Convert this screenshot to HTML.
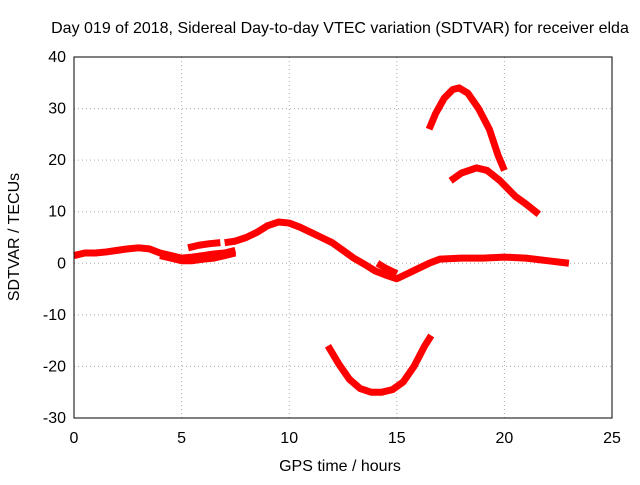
<!DOCTYPE html>
<html><head><meta charset="utf-8"><style>
body{margin:0;background:#fff;font-family:"Liberation Sans",sans-serif;}
svg text{font-family:"Liberation Sans",sans-serif;font-size:16px;fill:#000;}
</style></head><body>
<svg id="chart" width="640" height="480">
<text x="340" y="33" text-anchor="middle">Day 019 of 2018, Sidereal Day-to-day VTEC variation (SDTVAR) for receiver elda</text>
<g id="grid"></g><g id="ticks"></g><g id="series"></g>
<rect x="74" y="57" width="538" height="361" fill="none" stroke="#000"/>
<text x="340" y="471" text-anchor="middle">GPS time / hours</text>
<text transform="translate(19,237) rotate(-90)" text-anchor="middle">SDTVAR / TECUs</text>
</svg>
<script>
const xTicks=[0,5,10,15,20,25];
const yTicks=[-30,-20,-10,0,10,20,30,40];
const trackA_h=[0,0.5,1,1.5,2,2.5,3,3.5,4,4.5,5,5.5,6,6.5,7,7.5];
const trackA_v=[1.5,2,2,2.2,2.5,2.8,3,2.8,2,1.5,1,1.2,1.5,1.8,2,2.5];
const trackB_h=[4,4.5,5,5.5,6,6.5,7,7.5];
const trackB_v=[1.5,1,0.5,0.5,0.8,1,1.5,2];
const trackC_h=[5.3,5.8,6.3,6.8];
const trackC_v=[3,3.5,3.8,4];
const trackD_h=[7,7.5,8,8.5,9,9.5,10,10.5,11,11.5,12,12.5,13,13.5,14,14.5,15,15.5,16,16.5,17,18,19,20,21,22,23];
const trackD_v=[4,4.3,5,6,7.3,8,7.8,7,6,5,4,2.5,1,-0.2,-1.5,-2.3,-3,-2,-1,0,0.8,1,1,1.2,1,0.5,0];
const trackE_h=[14.1,14.5,15];
const trackE_v=[0,-1,-2];
const trackF_h=[16.5,16.8,17.2,17.6,17.9,18.3,18.8,19.3,19.7,20];
const trackF_v=[26,29,32,33.7,34,33,30,26,21,18];
const trackG_h=[17.5,18,18.7,19.2,19.8,20.5,21,21.6];
const trackG_v=[16,17.5,18.5,18,16,13,11.5,9.5];
const trackH_h=[11.8,12.3,12.8,13.3,13.8,14.3,14.8,15.3,15.8,16.3,16.6];
const trackH_v=[-16,-19.5,-22.5,-24.3,-25,-25,-24.5,-23,-20,-16,-14];
const xs=h=>74+h*538/25, ys=v=>418-(v+30)*361/70;
const NS="http://www.w3.org/2000/svg";
const grid=document.getElementById('grid'),ticks=document.getElementById('ticks'),ser=document.getElementById('series');
xTicks.forEach(t=>{const x=xs(t);
 const l=document.createElementNS(NS,'line');l.setAttribute('x1',x);l.setAttribute('x2',x);l.setAttribute('y1',57);l.setAttribute('y2',418);l.setAttribute('stroke','#aaa');l.setAttribute('stroke-dasharray','1,3');
 
 grid.appendChild(l);
 const tx=document.createElementNS(NS,'text');tx.setAttribute('x',x);tx.setAttribute('y',443);tx.setAttribute('text-anchor','middle');tx.setAttribute('font-size','15');tx.textContent=t;
 
 ticks.appendChild(tx);});
yTicks.forEach(t=>{const y=ys(t);
 const l=document.createElementNS(NS,'line');l.setAttribute('x1',74);l.setAttribute('x2',612);l.setAttribute('y1',y);l.setAttribute('y2',y);l.setAttribute('stroke','#aaa');l.setAttribute('stroke-dasharray','1,3');
 
 grid.appendChild(l);
 const tx=document.createElementNS(NS,'text');tx.setAttribute('x',66);tx.setAttribute('y',y+5);tx.setAttribute('text-anchor','end');tx.setAttribute('font-size','15');tx.textContent=t;
 
 ticks.appendChild(tx);});
[[trackA_h,trackA_v,'track-a'],[trackB_h,trackB_v,'track-b'],[trackC_h,trackC_v,'track-c'],[trackD_h,trackD_v,'track-d'],[trackE_h,trackE_v,'track-e'],[trackF_h,trackF_v,'track-f'],[trackG_h,trackG_v,'track-g'],[trackH_h,trackH_v,'track-h']].forEach(([h,v,n])=>{
 const p=document.createElementNS(NS,'polyline');
 p.setAttribute('points',h.map((x,i)=>xs(x)+','+ys(v[i])).join(' '));
 p.setAttribute('fill','none');p.setAttribute('stroke','#f00');p.setAttribute('stroke-width','7');p.setAttribute('stroke-linejoin','round');
 
 
 ser.appendChild(p);});
</script>
</body></html>
